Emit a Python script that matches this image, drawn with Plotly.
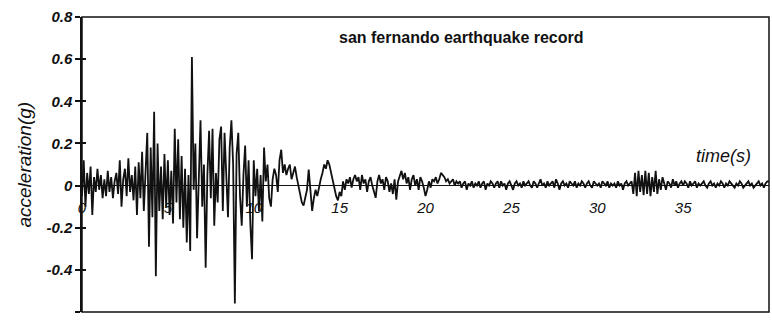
import plotly.graph_objects as go

# San Fernando earthquake ground acceleration, sampled every 0.1 s (g)
dt = 0.1
accel = [
    # 0-1 s
    -0.05, 0.12, -0.10, 0.06, -0.04, 0.09, -0.14, 0.04, -0.03, 0.08,
    # 1-2 s
    -0.02, 0.05, -0.06, 0.03, -0.05, 0.07, -0.03, 0.04, -0.06, 0.02,
    # 2-3 s
    0.06, -0.04, 0.12, -0.10, 0.03, 0.08, -0.05, 0.13, -0.03, 0.05,
    # 3-4 s
    -0.07, 0.09, -0.14, 0.11, -0.06, 0.16, -0.12, 0.10, 0.25, -0.29,
    # 4-5 s
    0.18, -0.15, 0.35, -0.43, 0.20, -0.12, 0.09, -0.16, 0.15, -0.10,
    # 5-6 s
    0.12, -0.14, 0.07, -0.18, 0.27, -0.08, 0.22, -0.16, 0.14, -0.20,
    # 6-7 s
    0.08, -0.27, 0.05, -0.31, 0.61, -0.02, 0.20, -0.25, 0.10, 0.31,
    # 7-8 s
    -0.10, 0.10, -0.39, 0.05, 0.26, -0.06, 0.27, -0.19, 0.06, -0.08,
    # 8-9 s
    0.22, 0.28, -0.12, 0.25, 0.05, -0.15, 0.18, 0.31, 0.10, -0.56,
    # 9-10 s
    0.15, 0.25, -0.05, -0.19, 0.05, 0.19, -0.10, 0.12, -0.18, -0.35,
    # 10-11 s
    0.12, -0.05, 0.08, -0.12, 0.05, -0.17, 0.18, 0.02, 0.10, -0.06,
    # 11-12 s
    -0.10, 0.03, 0.08, 0.05, -0.03, 0.12, 0.17, 0.06, 0.10, 0.05,
    # 12-13 s
    0.08, 0.10, 0.03, 0.06, 0.09, 0.04, 0.00, -0.04, -0.08, -0.095,
    # 13-14 s
    -0.06, -0.02, 0.076, -0.03, -0.12, -0.06, -0.02, -0.05, 0.00, 0.03,
    # 14-15 s
    0.06, 0.10, 0.08, 0.12, 0.10, 0.06, 0.02, -0.02, -0.05, -0.07,
    # 15-16 s
    -0.03, -0.05, 0.02, -0.02, 0.03, 0.01, 0.04, -0.01, 0.03, 0.05,
    # 16-17 s
    0.02, 0.04, -0.02, 0.05, 0.01, 0.03, -0.03, 0.02, 0.04, 0.00,
    # 17-18 s
    -0.03, -0.058, 0.02, 0.05, 0.01, 0.03, -0.02, 0.04, 0.02, -0.03,
    # 18-19 s
    0.01, -0.04, 0.03, -0.067, 0.02, 0.05, 0.07, 0.03, 0.06, 0.01,
    # 19-20 s
    0.04, -0.02, 0.03, 0.05, 0.00, 0.03, -0.02, 0.04, 0.02, -0.01,
    # 20-21 s
    -0.05, -0.02, 0.02, -0.01, 0.03, 0.02, 0.04, 0.01, 0.03, 0.06,
    # 21-22 s
    0.05, 0.04, 0.02, 0.03, 0.01, 0.02, 0.03, 0.00, 0.02, 0.01,
    # 22-23 s
    0.02, -0.01, 0.01, 0.02, -0.02, 0.01, 0.00, 0.02, -0.01, 0.01,
    # 23-24 s
    0.00, 0.02, -0.01, 0.01, 0.02, -0.02, 0.01, 0.00, 0.02, 0.01,
    # 24-25 s
    -0.01, 0.01, 0.02, -0.01, 0.02, 0.00, 0.01, -0.02, 0.01, 0.02,
    # 25-26 s
    0.00, -0.02, 0.01, 0.02, 0.00, 0.01, -0.01, 0.02, 0.00, 0.01,
    # 26-27 s
    0.02, 0.00, -0.01, 0.02, 0.01, -0.01, 0.01, 0.03, 0.00, 0.01,
    # 27-28 s
    -0.01, 0.02, 0.00, 0.01, 0.02, -0.01, 0.03, 0.01, -0.02, 0.01,
    # 28-29 s
    0.02, 0.00, 0.01, -0.01, 0.02, 0.01, 0.00, 0.02, -0.01, 0.01,
    # 29-30 s
    0.00, 0.02, 0.01, -0.01, 0.01, 0.02, 0.00, -0.01, 0.02, 0.01,
    # 30-31 s
    0.00, 0.01, -0.01, 0.02, 0.01, 0.00, 0.02, -0.01, 0.01, 0.00,
    # 31-32 s
    0.01, -0.01, 0.02, 0.00, 0.01, -0.02, 0.01, 0.02, 0.00, 0.01,
    # 32-33 s
    0.02, -0.04, 0.06, -0.05, 0.07, -0.03, 0.05, -0.045, 0.07, -0.04,
    # 33-34 s
    0.06, -0.05, 0.04, -0.03, 0.07, -0.04, 0.03, -0.02, 0.04, 0.01,
    # 34-35 s
    -0.02, 0.02, 0.01, -0.01, 0.03, 0.00, 0.02, -0.01, 0.01, 0.02,
    # 35-36 s
    0.00, 0.02, 0.01, -0.01, 0.02, 0.00, 0.01, 0.02, -0.01, 0.01,
    # 36-37 s
    0.00, 0.01, 0.02, 0.00, -0.01, 0.01, 0.02, 0.00, 0.01, -0.01,
    # 37-38 s
    0.01, 0.00, 0.02, 0.01, -0.01, 0.01, 0.00, 0.02, 0.01, 0.00,
    # 38-39 s
    -0.01, 0.01, 0.00, 0.02, 0.01, -0.01, 0.00, 0.01, 0.02, 0.00,
    # 39-40 s
    0.01, -0.01, 0.00, 0.01, 0.02, 0.00, 0.01, -0.01, 0.01, 0.02,
    # 40 s
    0.02,
]
time_s = [round(i * dt, 1) for i in range(len(accel))]

x_tickvals = [0, 5, 10, 15, 20, 25, 30, 35, 40]
x_ticktext = ["0", "5", "10", "15", "20", "25", "30", "35", "40"]
y_tickvals = [0.8, 0.6, 0.4, 0.2, 0, -0.2, -0.4, -0.6]
y_ticktext = ["0.8", "0.6", "0.4", "0.2", "0", "-0.2", "-0.4", "-0.6"]
x_range = [0, 40]
y_range = [-0.6, 0.8]

FONT = "Liberation Sans, Arial, sans-serif"

fig = go.Figure()
fig.add_trace(go.Scatter(
    x=time_s, y=accel, mode="lines",
    line=dict(color="#111111", width=1.8),
    showlegend=False, hoverinfo="skip",
))
# empty trace so the secondary y axis (inner tick halves) is drawn
fig.add_trace(go.Scatter(x=[None], y=[None], yaxis="y2", showlegend=False,
                         hoverinfo="skip"))

# time axis sits on the zero line, labels tucked below it
zero_pos = (0 - y_range[0]) / (y_range[1] - y_range[0])

fig.update_layout(
    width=772, height=320,
    margin=dict(l=82, r=3, t=17, b=8),
    paper_bgcolor="white", plot_bgcolor="white",
    xaxis=dict(
        range=x_range, anchor="free", position=zero_pos,
        tickvals=x_tickvals, ticktext=x_ticktext,
        showline=False, showgrid=False, zeroline=False, ticks="",
        ticklabelstandoff=11, layer="below traces",
        tickfont=dict(family=FONT, size=15, color="#111111", style="italic"),
    ),
    yaxis=dict(
        range=y_range, tickvals=y_tickvals, ticktext=y_ticktext,
        showline=True, linecolor="#111111", linewidth=1.5,
        ticks="outside", ticklen=5, tickwidth=1.5, tickcolor="#111111",
        showgrid=False, zeroline=True, zerolinecolor="#111111", zerolinewidth=1,
        tickfont=dict(family=FONT, size=15, color="#111111",
                      weight="bold", style="italic"),
    ),
    yaxis2=dict(
        range=y_range, overlaying="y", side="left", anchor="x",
        tickvals=y_tickvals, showticklabels=False,
        ticks="inside", ticklen=4, tickwidth=1.5, tickcolor="#111111",
        showgrid=False, zeroline=False, showline=False,
    ),
    shapes=[dict(type="rect", xref="paper", yref="paper", x0=0, x1=1, y0=0, y1=1,
                 line=dict(color="#111111", width=1.5), layer="above")],
    annotations=[
        dict(text="san fernando earthquake record", xref="paper", yref="paper",
             x=0.5525, y=0.9322, showarrow=False, xanchor="center", yanchor="middle",
             font=dict(family=FONT, size=16, color="#111111", weight="bold")),
        dict(text="time(s)", xref="paper", yref="paper",
             x=0.9331, y=0.5288, showarrow=False, xanchor="center", yanchor="middle",
             font=dict(family=FONT, size=18, color="#111111", style="italic")),
        dict(text="acceleration(g)", xref="paper", yref="paper",
             x=-0.0844, y=0.5, showarrow=False, xanchor="center", yanchor="middle",
             textangle=-90,
             font=dict(family=FONT, size=19, color="#111111", style="italic")),
    ],
)

fig.write_html("out.html")
